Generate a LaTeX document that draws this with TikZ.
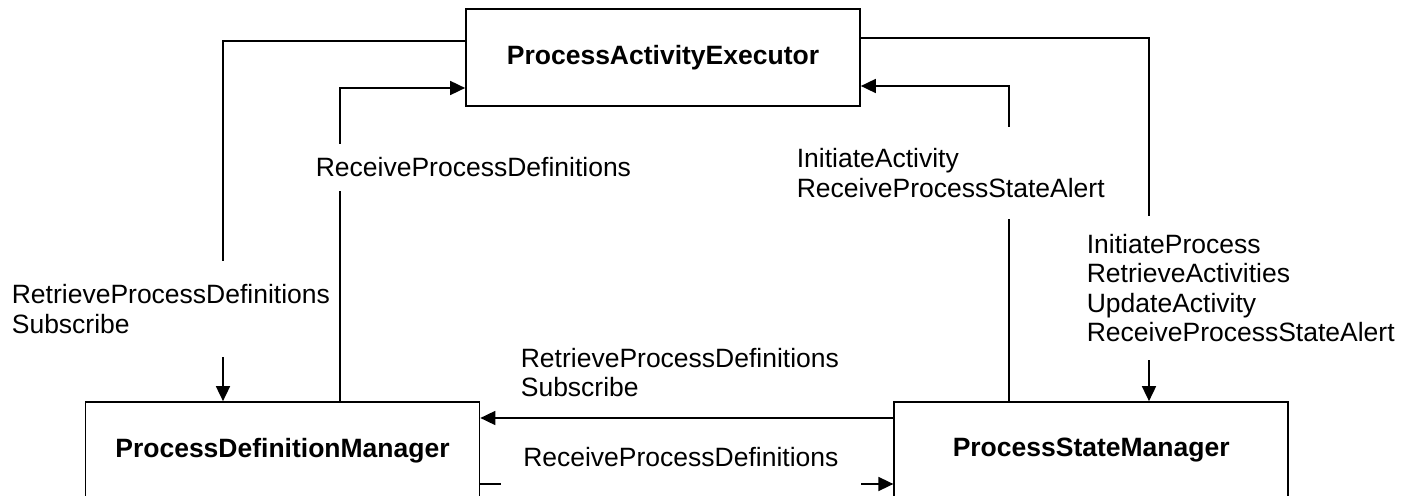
\documentclass[tikz,border=0pt]{standalone}
\usepackage{fontspec}
\setmainfont{Liberation Sans}
\usetikzlibrary{arrows.meta,positioning}

\begin{document}
\begin{tikzpicture}[
    ->,
    >={Triangle[length=7.5pt,width=7pt]},
    line width=.85pt,
    x=.5pt,
    y=-.5pt,
    node distance=206.5pt,
    block/.style={
        draw,
        minimum width=197pt,
        minimum height=48.5pt,
        font=\fontsize{13.25pt}{14.75pt}\selectfont\bfseries,
    },
    msg/.style={
        fill=white,
        align=left,
        anchor=west,
        inner xsep=3pt,
        inner ysep=7pt,
        font=\fontsize{13.25pt}{14.75pt}\selectfont,
    },
]
    \clip (0,0) rectangle (1413,496);
    \begin{scope}[
        every node/.append style={
            block,
        },
    ]
        \node (pae) at (663,57.5)    {ProcessActivityExecutor};
        \node (pdm) at (282.5,450.5) {ProcessDefinitionManager};
        \node (psm) [right=of pdm]   {ProcessStateManager};
    \end{scope}

    \draw (pae.west |- 0,41)    -| (pdm.north -| 223,0);
    \draw (pdm.north -| 340,0)  |- (pae.west |- 0,88);
    \draw (psm.north -| 1009,0) |- (pae.east |- 0,86);
    \draw (pae.east |- 0,38)    -| (psm.north -| 1149,0);
    \draw (psm.west |- 0,418)   -- (pdm.east |- 0,418);
    \draw (pdm.east |- 0,484)   -- (psm.west |- 0,484);

    \node[msg, inner xsep=2pt, inner ysep=12pt] (rpd)  at (7,309)      {RetrieveProcessDefinitions\\Subscribe};
    \node[msg]                                  (rcv)  at (309,167.5)  {ReceiveProcessDefinitions};
    \node[msg, inner ysep=11pt]                 (ini)  at (790,173)    {InitiateActivity\\ReceiveProcessStateAlert};
    \node[msg, inner ysep=9pt]                  (ipr)  at (1080,288)   {InitiateProcess\\RetrieveActivities\\UpdateActivity\\ReceiveProcessStateAlert};
    \node[msg, inner ysep=2pt]                  (rpd2) at (514,372.75) {RetrieveProcessDefinitions\\Subscribe};
    \node[msg, minimum width=180pt, inner ysep=10.5pt] (rcv2) at (500,456.75) {ReceiveProcessDefinitions};
\end{tikzpicture}
\end{document}
